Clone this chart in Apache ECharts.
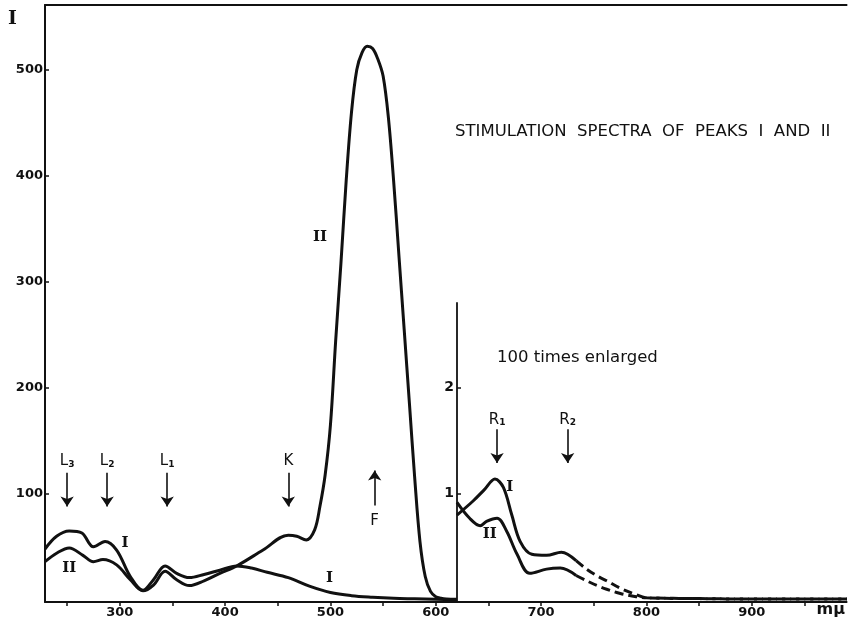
<!DOCTYPE html>
<html><head><meta charset="utf-8">
<script src="https://cdn.jsdelivr.net/npm/echarts@6/dist/echarts.min.js"></script>
<style>html,body{margin:0;padding:0;background:#fff}#c{width:848px;height:627px}</style>
</head><body><div id="c"></div>
<script>
// ---- data (wavelength in mμ, intensity I) ----
const waveI = [229, 240, 252, 264, 275, 286, 297, 310, 322, 332, 343, 354, 366, 380, 395, 411, 425, 440, 460, 480, 500, 520, 540, 560, 580, 600, 620];
const valI  = [48, 60, 65, 63, 50, 55, 47, 22, 9, 19, 32, 25, 21, 24, 28, 32, 30, 26, 21, 13, 7, 4, 2.5, 1.5, 1, 0.5, 0.3];

const waveII = [229, 240, 252, 265, 275, 284, 297, 310, 322, 332, 343, 354, 366, 380, 395, 411, 436, 460, 468, 477, 485, 490, 495, 500, 505, 510, 515, 520, 525, 530, 535, 540, 545, 550, 555, 560, 565, 570, 575, 580, 585, 590, 595, 600, 605, 610, 620];
const valII  = [36, 44, 49, 42, 36, 38, 33, 19, 8.5, 14, 27, 19, 13.5, 18, 25, 32, 47, 61, 60, 56.5, 66, 88, 118, 165, 245, 318, 396, 460, 500, 516, 522, 520, 510, 494, 455, 395, 325, 255, 185, 115, 55, 22, 8, 3, 1.5, 0.8, 0.5];

// inset, 100 times enlarged
const insetWaveI = [620, 635, 646, 656, 664, 672, 680, 691, 705, 719, 733];
const insetValI  = [0.80, 0.93, 1.04, 1.14, 1.06, 0.80, 0.55, 0.43, 0.42, 0.45, 0.37];
const insetWaveIDash = [733, 743, 754, 762, 775, 790, 800, 850, 900, 990];
const insetValIDash  = [0.37, 0.29, 0.22, 0.18, 0.11, 0.05, 0.02, 0.012, 0.008, 0.008];

const insetWaveII = [620, 632, 642, 648, 658, 667, 677, 689, 705, 718, 733];
const insetValII  = [0.92, 0.77, 0.70, 0.74, 0.77, 0.65, 0.43, 0.25, 0.29, 0.30, 0.23];
const insetWaveIIDash = [733, 743, 754, 762, 775, 790, 800, 850, 900, 990];
const insetValIIDash  = [0.23, 0.18, 0.13, 0.10, 0.06, 0.03, 0.02, 0.012, 0.008, 0.008];

// axes ticks
const xTicks = [250, 300, 350, 400, 450, 500, 550, 600, 650, 700, 750, 800, 850, 900, 950];
const xLabels = [300, 400, 500, 600, 700, 800, 900];
const yTicks = [100, 200, 300, 400, 500];
const insetTicks = [1, 2];

// annotations (data coordinates)
const arrowsMain = [
  {name: 'L3', x: 250, from: 120, to: 88},
  {name: 'L2', x: 288, from: 120, to: 88},
  {name: 'L1', x: 345, from: 120, to: 88},
  {name: 'K',  x: 460, from: 120, to: 88},
  {name: 'F',  x: 542, from: 89, to: 122}
];
const labelsMain = [
  {t: '{b|L}{s|3}', x: 250, y: 131},
  {t: '{b|L}{s|2}', x: 288, y: 131},
  {t: '{b|L}{s|1}', x: 345, y: 131},
  {t: '{b|K}', x: 460, y: 131},
  {t: '{b|F}', x: 542, y: 74},
  {t: '{r|I}', x: 305, y: 54},
  {t: '{r|II}', x: 252, y: 30},
  {t: '{r|I}', x: 499, y: 21},
  {t: '{r|II}', x: 490, y: 342}
];
const arrowsInset = [
  {name: 'R1', x: 658, from: 1.61, to: 1.29},
  {name: 'R2', x: 725, from: 1.61, to: 1.29}
];
const labelsInset = [
  {t: '{b|R}{s|1}', x: 658, y: 1.70},
  {t: '{b|R}{s|2}', x: 725, y: 1.70},
  {t: '{r|I}', x: 670, y: 1.06},
  {t: '{r|II}', x: 651, y: 0.62}
];
const titleText = 'STIMULATION  SPECTRA  OF  PEAKS  I  AND  II';
const insetText = '100 times enlarged';

// ---- chart ----
const INK = '#111';
const FONT = '"DejaVu Sans", sans-serif';
const zip = (a, b) => a.map((v, i) => [v, b[i]]);
const rich = {
  b: {fontFamily: FONT, fontSize: 15, color: INK, verticalAlign: 'bottom'},
  s: {fontFamily: FONT, fontSize: 9, color: INK, fontWeight: 'bold', verticalAlign: 'bottom', padding: [7, 0, 0, 0]},
  r: {fontFamily: '"DejaVu Serif", serif', fontSize: 15, fontWeight: 'bold', color: INK}
};
const curve = (data, xi, yi, dashed) => ({
  type: 'line', xAxisIndex: xi, yAxisIndex: yi, data: data, smooth: 0.35,
  showSymbol: false, symbol: 'none', silent: true,
  lineStyle: {color: INK, width: 3, type: dashed ? [9, 5] : 'solid'}
});
const arrowSeries = (arr, xi, yi) => ({
  type: 'lines', coordinateSystem: 'cartesian2d', xAxisIndex: xi, yAxisIndex: yi,
  symbol: ['none', 'arrow'], symbolSize: [6, 10], silent: true,
  lineStyle: {color: INK, width: 1.6, opacity: 1},
  data: arr.map(a => ({coords: [[a.x, a.from], [a.x, a.to]]}))
});
const labelSeries = (arr, xi, yi) => ({
  type: 'scatter', xAxisIndex: xi, yAxisIndex: yi, symbolSize: 1, silent: true,
  itemStyle: {color: 'rgba(0,0,0,0)'},
  label: {show: true, position: 'inside', color: INK, textBorderWidth: 0, opacity: 1,
          formatter: p => p.data.t, rich: rich},
  data: arr.map(a => ({value: [a.x, a.y], t: a.t}))
});

const option = {
  animation: false,
  backgroundColor: '#fff',
  grid: [
    {left: 45, right: 1, top: 5, bottom: 25},
    {left: 457, right: 1, top: 303, bottom: 25}
  ],
  xAxis: [
    {type: 'value', gridIndex: 0, min: 229, max: 990,
     axisLine: {show: true, onZero: false, lineStyle: {color: INK, width: 2}},
     axisTick: {show: true, customValues: xTicks, length: 4, lineStyle: {color: INK, width: 1.5}},
     axisLabel: {customValues: xLabels, color: INK, fontFamily: FONT, fontSize: 13, fontWeight: 'bold', margin: 4},
     splitLine: {show: false},
     name: 'mμ', nameLocation: 'end', nameGap: -30,
     nameTextStyle: {color: INK, fontFamily: FONT, fontSize: 16, fontWeight: 'bold', align: 'left', verticalAlign: 'top', padding: [0, 0, 0, 0]}},
    {type: 'value', gridIndex: 1, min: 620, max: 990, show: false},
    {type: 'value', gridIndex: 0, min: 229, max: 990, position: 'top',
     axisLine: {show: true, onZero: false, lineStyle: {color: INK, width: 2}},
     axisTick: {show: false}, axisLabel: {show: false}, splitLine: {show: false}}
  ],
  yAxis: [
    {type: 'value', gridIndex: 0, min: -2, max: 561,
     axisLine: {show: true, onZero: false, lineStyle: {color: INK, width: 2}},
     axisTick: {show: true, customValues: yTicks, inside: true, length: 4, lineStyle: {color: INK, width: 1.5}},
     axisLabel: {customValues: yTicks, color: INK, fontFamily: FONT, fontSize: 13, fontWeight: 'bold', margin: 2},
     splitLine: {show: false},
     name: 'I', nameLocation: 'end', nameGap: -24,
     nameTextStyle: {color: INK, fontFamily: '"DejaVu Serif", serif', fontSize: 19, fontWeight: 'bold', align: 'right', padding: [0, 28, 0, 0]}},
    {type: 'value', gridIndex: 1, min: -0.02, max: 2.80,
     axisLine: {show: true, onZero: false, lineStyle: {color: INK, width: 1.8}},
     axisTick: {show: true, customValues: insetTicks, inside: true, length: 4, lineStyle: {color: INK, width: 1.5}},
     axisLabel: {customValues: insetTicks, color: INK, fontFamily: FONT, fontSize: 14, fontWeight: 'bold', margin: 3},
     splitLine: {show: false}}
  ],
  title: [
    {text: titleText, left: 455, top: 123, padding: 0, textStyle: {color: INK, fontFamily: FONT, fontSize: 16.5, fontWeight: 'normal'}},
    {text: insetText, left: 497, top: 349, padding: 0, textStyle: {color: INK, fontFamily: FONT, fontSize: 16.5, fontWeight: 'normal'}}
  ],
  series: [
    curve(zip(waveI, valI), 0, 0, false),
    curve(zip(waveII, valII), 0, 0, false),
    curve(zip(insetWaveI, insetValI), 1, 1, false),
    curve(zip(insetWaveIDash, insetValIDash), 1, 1, true),
    curve(zip(insetWaveII, insetValII), 1, 1, false),
    curve(zip(insetWaveIIDash, insetValIIDash), 1, 1, true),
    arrowSeries(arrowsMain, 0, 0),
    arrowSeries(arrowsInset, 1, 1),
    labelSeries(labelsMain, 0, 0),
    labelSeries(labelsInset, 1, 1)
  ]
};
const chart = echarts.init(document.getElementById('c'));
chart.setOption(option);
</script></body></html>
